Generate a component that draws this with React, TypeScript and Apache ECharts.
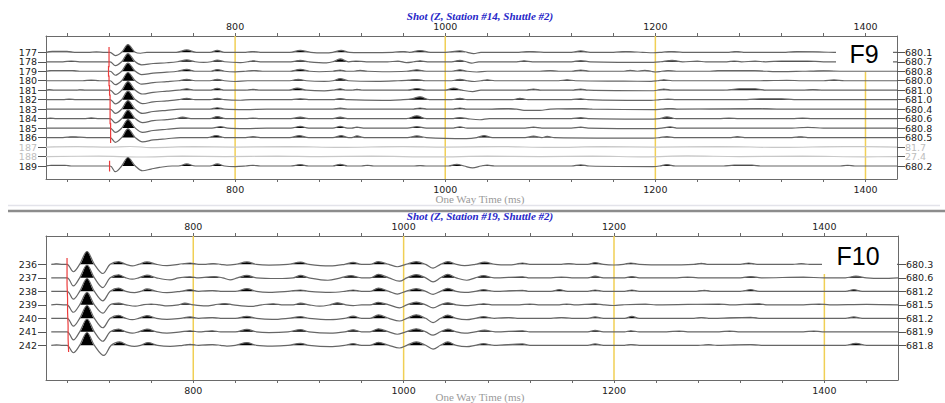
import React, { useEffect, useRef } from "react";
import * as echarts from "echarts";

type Pt = [number, number];

// ---------- Top panel (Station #14) ----------
const topLabels = ["177", "178", "179", "180", "181", "182", "183", "184", "185", "186", "187", "188", "189"];
const topElev = ["680.1", "680.7", "680.8", "680.0", "681.0", "681.0", "680.4", "680.6", "680.8", "680.5", "81.7", "27.4", "680.2"];
const topFaded = [false, false, false, false, false, false, false, false, false, false, true, true, false];
const topPicks: (number | null)[] = [680, 680, 679.5, 680, 680.5, 681, 681, 681, 681.5, 681.5, null, null, 680.5];
const topTicks = [640, 680, 720, 760, 800, 840, 880, 920, 960, 1000, 1040, 1080, 1120, 1160, 1200, 1240, 1280, 1320, 1360, 1400];
const topTickLabels = [800, 1000, 1200, 1400];

const t177: Pt[] = [[620,0],[626,0.1],[640,0.1],[647,0],[660,0],[668,0.04],[676,0],[681,0],[686,-0.35],[692,0],[698,0.82],[705,0],[710,-0.1],[716,0],[744,0],[754,0.25],[763,0],[776,0],[783,0.2],[790,0],[810,0],[817,0.08],[824,0],[852,0],[862,0.2],[872,0],[885,-0.06],[893,0],[901,0.2],[909,0],[930,-0.04],[950,0],[960,0.08],[966,0],[976,0.18],[986,0],[1000,0],[1014,0.15],[1021,0],[1027,-0.15],[1034,0],[1070,0],[1080,0.08],[1094,0],[1120,0],[1129,0.15],[1138,0],[1160,0],[1172,0.08],[1188,0],[1198,-0.05],[1206,0],[1215,0.08],[1226,0],[1270,0],[1277,0.08],[1284,0],[1324,0],[1335,0.07],[1350,0.06],[1370,0],[1430,0]];
const t178: Pt[] = [[620,0],[636,0],[644,0.08],[652,0],[681,0],[686,-0.4],[692,0],[698,0.86],[705,0],[711,-0.33],[722,-0.18],[735,-0.1],[745,0],[754,0.2],[762,0],[770,-0.06],[777,0],[783,0.18],[790,0],[805,-0.08],[812,0],[817,0.1],[824,0],[853,0],[862,0.15],[870,0],[887,-0.12],[893,0],[900,0.3],[908,0],[915,0.08],[925,0],[945,0],[955,0.06],[963,-0.08],[970,0],[976,0.1],[983,0],[1006,0],[1014,0.15],[1020,0],[1025,-0.15],[1032,0],[1068,0],[1075,0.1],[1083,0],[1120,0],[1129,0.12],[1138,0],[1198,-0.06],[1205,0],[1216,0.15],[1226,0],[1240,0.06],[1248,0],[1268,0],[1275,0.08],[1282,0],[1295,0.06],[1305,0],[1320,0.08],[1345,0.08],[1360,0],[1430,0]];
const t179: Pt[] = [[620,0],[625,0.08],[645,0.08],[652,0],[681,0],[686,-0.42],[692,0],[698,0.86],[705,0],[711,-0.35],[722,-0.2],[735,-0.1],[745,0],[754,0.2],[762,0],[777,0],[783,0.18],[790,0],[800,-0.06],[810,0],[818,0.08],[826,0],[852,0],[862,0.2],[871,0],[880,-0.05],[893,0],[900,0.12],[906,0],[913,0],[919,0.1],[926,0],[940,-0.05],[963,0],[973,0.15],[982,0],[1006,0],[1014,0.15],[1021,0],[1030,-0.08],[1040,0],[1090,0],[1100,0.06],[1108,0],[1120,0],[1129,0.12],[1138,0],[1170,0],[1176,0.1],[1183,0],[1190,0.1],[1196,0],[1200,-0.08],[1206,0],[1212,0.06],[1220,0],[1252,0],[1262,0.08],[1275,0.07],[1290,0.08],[1306,0],[1320,-0.04],[1340,0],[1360,0.05],[1380,0],[1430,0]];
const t180: Pt[] = [[620,0],[655,0],[663,0.07],[671,0],[681,0],[686,-0.42],[692,0],[698,0.87],[705,0],[711,-0.36],[722,-0.2],[735,-0.1],[746,0],[754,0.15],[762,0],[776,0],[783,0.15],[790,0],[800,-0.08],[812,0],[852,0],[860,0.15],[868,0],[885,-0.06],[893,0],[900,0.22],[908,0],[935,-0.06],[955,0],[965,0.06],[973,0.12],[981,0],[1006,0],[1014,0.15],[1021,0],[1028,-0.08],[1034,0],[1040,0.1],[1047,0],[1108,0],[1116,0.1],[1124,0],[1170,-0.04],[1196,-0.06],[1202,0],[1208,0.1],[1216,0],[1300,0],[1325,0.05],[1340,0],[1360,0],[1370,0.08],[1380,0],[1430,0]];
const t181: Pt[] = [[620,0],[623,0.06],[628,0],[648,0],[652,0.05],[658,0],[681,0],[686,-0.45],[692,0],[698,0.9],[705,0],[712,-0.4],[722,-0.22],[735,-0.1],[746,0],[754,0.15],[762,0],[776,0],[783,0.2],[790,0],[810,0],[817,0.1],[824,0],[851,0],[859,0.22],[868,0],[885,-0.08],[893,0],[900,0.15],[906,0],[911,0],[916,0.1],[922,0],[964,0],[973,0.18],[982,0],[1000,0],[1008,0.22],[1016,0],[1026,-0.15],[1034,0],[1076,0],[1084,0.12],[1092,0],[1120,0],[1129,0.12],[1136,0],[1196,-0.06],[1202,0],[1208,0.12],[1216,0],[1265,0],[1280,0.15],[1295,0.15],[1306,0],[1340,0],[1350,0.06],[1360,0],[1430,0]];
const t182: Pt[] = [[620,0],[636,0],[642,0.06],[649,0],[681,0],[686,-0.45],[692,0],[698,0.9],[705,0],[712,-0.42],[722,-0.24],[735,-0.12],[746,0],[754,0.15],[762,0],[776,0],[783,0.15],[790,0],[805,-0.06],[815,0],[854,0],[862,0.1],[870,0],[893,0],[900,0.12],[907,0],[940,-0.08],[960,0],[968,0.08],[976,0.3],[985,0],[1006,0],[1014,0.15],[1021,0],[1064,0],[1071,0.15],[1079,0],[1120,0],[1129,0.1],[1136,0],[1150,-0.05],[1196,-0.08],[1204,0],[1212,0.06],[1220,0],[1287,0],[1300,0.1],[1320,0.1],[1332,0],[1380,0],[1430,0]];
const t183: Pt[] = [[620,0],[681,0],[686,-0.45],[692,0],[698,0.9],[705,0],[712,-0.45],[722,-0.25],[735,-0.12],[748,0],[776,0],[783,0.15],[790,0],[810,-0.05],[830,0],[893,0],[900,0.1],[907,0],[968,0],[976,0.12],[984,0],[1006,0],[1014,0.12],[1021,0],[1040,0],[1060,0.06],[1068,0],[1075,-0.12],[1090,-0.12],[1100,0],[1130,0.05],[1140,0],[1198,-0.05],[1206,0],[1214,0.06],[1222,0],[1300,0.05],[1320,0],[1430,0]];
const t184: Pt[] = [[620,0],[624,0.06],[630,0],[656,0],[663,0.07],[671,0],[681,0],[686,-0.45],[692,0],[698,0.9],[705,0],[712,-0.42],[722,-0.22],[735,-0.1],[743,0],[750,0.15],[758,0],[776,0],[783,0.22],[791,0],[810,0],[817,0.06],[824,0],[853,0],[862,0.15],[870,0],[893,0],[900,0.15],[907,0],[963,0],[973,0.3],[982,0],[1006,0],[1014,0.12],[1021,0],[1033,-0.12],[1042,0],[1120,0],[1129,0.1],[1136,0],[1198,-0.05],[1204,0],[1211,0.18],[1220,0],[1260,0],[1270,0.06],[1280,0],[1330,0],[1340,0.06],[1350,0],[1430,0]];
const t185: Pt[] = [[620,0],[681,0],[686,-0.45],[692,0],[698,0.9],[705,0],[712,-0.45],[722,-0.25],[735,-0.12],[748,0],[778,0],[786,0.15],[793,0],[810,-0.05],[830,0],[853,0],[862,0.18],[870,0],[893,0],[900,0.18],[907,0],[911,0],[916,0.1],[922,0],[964,0],[973,0.15],[982,0],[1006,0],[1014,0.12],[1021,0],[1076,0],[1084,0.1],[1092,0],[1120,0],[1129,0.1],[1136,0],[1198,-0.06],[1206,0],[1214,0.12],[1222,0],[1330,0],[1345,0.08],[1360,0],[1430,0]];
const t186: Pt[] = [[620,0],[636,0],[645,0.08],[659,0],[681,0],[686,-0.5],[692,0],[698,0.92],[705,0],[712,-0.45],[722,-0.25],[735,-0.12],[748,0],[774,0],[782,0.22],[790,0],[810,0],[817,0.1],[824,0],[852,0],[861,0.2],[870,0],[893,0],[901,0.2],[908,0],[911,0],[916,0.18],[923,0],[964,0],[973,0.18],[982,0],[1020,-0.1],[1030,0],[1037,0.2],[1045,0],[1076,0],[1084,0.15],[1092,0],[1097,0.12],[1104,0],[1198,-0.06],[1204,0],[1211,0.1],[1218,0],[1272,0],[1278,0.1],[1285,0],[1330,0],[1338,0.08],[1345,0],[1430,0]];
const t187: Pt[] = [[620,0],[650,0.05],[680,0],[700,0.06],[720,-0.05],[760,0.04],[800,0],[850,0.05],[900,-0.04],[960,0.05],[1000,0],[1050,0.05],[1100,-0.04],[1150,0.04],[1200,0],[1260,0.05],[1320,-0.04],[1380,0.05],[1430,0]];
const t188: Pt[] = [[620,0],[670,0.04],[710,-0.05],[750,0.04],[790,0],[840,0.05],[880,0],[930,0.04],[990,-0.04],[1040,0.04],[1090,0],[1140,0.05],[1190,-0.04],[1230,0.06],[1280,0],[1340,0.04],[1400,-0.03],[1430,0]];
const t189: Pt[] = [[620,0],[625,0.08],[638,0.08],[644,0],[681,0],[686,-0.6],[692,0],[698,0.9],[705,0],[712,-0.5],[720,-0.32],[728,-0.15],[740,0],[746,0],[754,0.22],[762,0],[776,0],[783,0.22],[790,0],[800,-0.06],[810,0],[817,0.08],[824,0],[853,0],[862,0.15],[870,0],[893,0],[900,0.18],[907,0],[920,0],[926,0.08],[932,0],[970,0],[976,0.05],[982,0],[1003,0],[1011,0.18],[1018,0],[1026,-0.2],[1034,0],[1040,0.1],[1047,0],[1120,0],[1129,0.12],[1137,0],[1198,-0.06],[1204,0],[1211,0.15],[1219,0],[1265,0],[1275,0.1],[1292,0.1],[1300,0],[1376,0],[1383,0.08],[1390,0],[1430,0]];
const topTraces: Pt[][] = [t177, t178, t179, t180, t181, t182, t183, t184, t185, t186, t187, t188, t189];

// ---------- Bottom panel (Station #19) ----------
const bottomLabels = ["236", "237", "238", "239", "240", "241", "242"];
const bottomElev = ["680.3", "680.6", "681.2", "681.5", "681.2", "681.9", "681.8"];
const bottomFaded = [false, false, false, false, false, false, false];
const bottomPicks: (number | null)[] = [680, 680, 680.5, 680.5, 681, 681, 681.5];
const bottomTicks = [680, 720, 760, 800, 840, 880, 920, 960, 1000, 1040, 1080, 1120, 1160, 1200, 1240, 1280, 1320, 1360, 1400, 1440];
const bottomTickLabels = [800, 1000, 1200, 1400];

const b236: Pt[] = [[665,0],[670,0.04],[676,0],[680,0],[686,-0.55],[692,0],[699,0.95],[706,0],[714,-0.68],[721,0],[729,0.2],[736,0],[742,-0.12],[748,0],[756,0.18],[765,0],[775,-0.1],[786,0],[797,0.1],[805,0],[812,0],[819,0.06],[826,0],[832,-0.06],[840,0],[851,0.18],[860,0],[872,-0.06],[890,0],[902,0.17],[910,0],[930,-0.12],[944,0],[952,0.14],[960,0],[968,0],[976,0.2],[986,0],[994,-0.18],[1002,0],[1012,0.2],[1021,0],[1028,-0.28],[1035,0],[1042,0.2],[1050,0],[1058,-0.1],[1068,0],[1077,0.16],[1087,0],[1100,-0.04],[1106,0],[1113,0.1],[1120,0],[1150,0],[1157,0.06],[1164,0],[1175,0],[1182,0.12],[1190,0],[1200,-0.05],[1209,0],[1216,0.1],[1224,0],[1250,-0.04],[1276,0],[1283,0.08],[1290,0],[1320,0],[1328,0.1],[1336,0],[1370,0],[1378,0.05],[1386,0],[1470,0]];
const b237: Pt[] = [[665,0],[680,0],[686,-0.6],[692,0],[699,0.95],[706,0],[714,-0.72],[721,0],[729,0.22],[736,0],[742,-0.1],[748,0],[756,0.2],[765,0],[778,-0.15],[786,0],[797,0.08],[805,0],[820,0.1],[828,0],[835,-0.15],[842,0],[851,0.18],[860,0],[880,-0.05],[895,0],[902,0.18],[910,0],[928,-0.18],[940,0],[950,0.16],[960,0],[968,0],[976,0.25],[986,0],[996,-0.25],[1003,0],[1012,0.24],[1021,0],[1028,-0.3],[1035,0],[1042,0.25],[1050,0],[1060,-0.18],[1068,0],[1076,0.16],[1086,0],[1113,0.08],[1120,0],[1140,0],[1150,0.06],[1160,0],[1175,0],[1182,0.12],[1190,0],[1210,0],[1217,0.1],[1224,0],[1260,0],[1270,0.06],[1280,0],[1320,0],[1330,0.1],[1340,0],[1380,0.05],[1400,0],[1420,0],[1430,0.12],[1440,0],[1455,-0.04],[1470,0]];
const b238: Pt[] = [[665,0],[680,0],[686,-0.58],[692,0],[699,0.95],[706,0],[714,-0.7],[721,0],[729,0.24],[736,0],[744,-0.1],[750,0],[756,0.18],[765,0],[775,-0.1],[788,0],[797,0.12],[805,0],[818,0.06],[826,0],[840,0],[851,0.2],[860,0],[872,-0.08],[890,0],[902,0.1],[910,0],[930,-0.08],[944,0],[952,0.1],[960,0],[968,0],[976,0.24],[986,0],[994,-0.2],[1002,0],[1012,0.2],[1021,0],[1028,-0.22],[1035,0],[1042,0.22],[1050,0],[1058,-0.08],[1068,0],[1076,0.12],[1086,0],[1113,0.08],[1120,0],[1140,0],[1148,0.12],[1156,0],[1175,0],[1182,0.1],[1190,0],[1210,0],[1217,0.1],[1224,0],[1276,0],[1286,0.08],[1294,0],[1320,0],[1330,0.12],[1338,0],[1420,0],[1428,0.12],[1436,0],[1470,0]];
const b239: Pt[] = [[665,0],[670,0.03],[678,0],[680,0],[686,-0.55],[692,0],[699,0.92],[706,0],[714,-0.62],[721,0],[729,0.12],[736,0],[745,-0.1],[752,0],[760,0.06],[768,0],[775,-0.08],[786,0],[792,0.12],[800,0],[812,-0.08],[820,0],[830,0.1],[838,0],[855,-0.12],[865,0],[876,0.08],[886,0],[895,0],[902,0.12],[910,0],[920,-0.1],[930,0],[937,0.15],[945,0],[952,-0.06],[960,0],[968,0],[976,0.18],[986,0],[996,-0.22],[1003,0],[1012,0.2],[1021,0],[1028,-0.22],[1035,0],[1042,0.15],[1050,0],[1058,-0.06],[1068,0],[1076,0.08],[1086,0],[1110,0],[1120,0.06],[1128,0],[1148,0],[1155,0.06],[1162,0],[1182,0.08],[1190,0],[1200,-0.05],[1208,0],[1230,0.05],[1240,0],[1300,0.06],[1310,0],[1338,0.08],[1346,0],[1380,0],[1395,0.06],[1405,0],[1440,0.04],[1470,0]];
const b240: Pt[] = [[665,0],[680,0],[686,-0.58],[692,0],[699,0.95],[706,0],[714,-0.7],[721,0],[729,0.22],[736,0],[742,-0.1],[748,0],[756,0.2],[765,0],[775,-0.08],[788,0],[797,0.1],[805,0],[818,0.06],[826,0],[840,0],[851,0.15],[860,0],[875,-0.08],[890,0],[902,0.12],[910,0],[930,-0.1],[944,0],[952,0.16],[960,0],[968,0],[976,0.25],[986,0],[996,-0.2],[1003,0],[1012,0.26],[1021,0],[1028,-0.32],[1035,0],[1042,0.24],[1050,0],[1060,-0.1],[1068,0],[1076,0.12],[1086,0],[1100,0.06],[1108,0],[1140,0],[1150,0.06],[1160,0],[1175,0],[1182,0.1],[1190,0],[1210,0],[1217,0.14],[1224,0],[1276,0],[1283,0.06],[1290,0],[1330,0.08],[1340,0],[1420,0],[1428,0.1],[1436,0],[1470,0]];
const b241: Pt[] = [[665,0],[680,0],[686,-0.6],[692,0],[699,0.95],[706,0],[714,-0.7],[721,0],[729,0.2],[736,0],[742,-0.1],[748,0],[756,0.2],[765,0],[775,-0.1],[788,0],[797,0.08],[805,0],[818,0.08],[826,0],[840,0],[851,0.18],[860,0],[872,-0.06],[890,0],[902,0.16],[910,0],[930,-0.1],[944,0],[952,0.15],[960,0],[968,0],[976,0.22],[986,0],[994,-0.18],[1002,0],[1012,0.22],[1021,0],[1028,-0.25],[1035,0],[1042,0.2],[1050,0],[1058,-0.1],[1068,0],[1077,0.12],[1087,0],[1113,0.08],[1120,0],[1175,0],[1182,0.1],[1190,0],[1210,0],[1216,0.08],[1224,0],[1250,0],[1262,0.06],[1270,0],[1300,0],[1310,0.06],[1318,0],[1380,0],[1390,0.06],[1398,0],[1470,0]];
const b242: Pt[] = [[665,0],[670,0.03],[676,0],[680,0],[686,-0.55],[692,0],[699,0.95],[706,0],[715,-0.75],[722,0],[730,0.25],[738,0],[744,-0.08],[750,0],[757,0.2],[766,0],[778,-0.08],[790,0],[797,0.08],[805,0],[818,0.06],[826,0],[832,-0.06],[840,0],[851,0.2],[860,0],[875,-0.06],[890,0],[902,0.15],[910,0],[930,-0.1],[944,0],[952,0.12],[960,0],[968,0],[976,0.22],[986,0],[996,-0.2],[1003,0],[1012,0.25],[1021,0],[1028,-0.28],[1035,0],[1042,0.25],[1050,0],[1060,-0.1],[1068,0],[1076,0.12],[1086,0],[1113,0.1],[1120,0],[1175,0],[1182,0.1],[1190,0],[1210,0],[1216,0.06],[1224,0],[1280,0],[1290,0.05],[1298,0],[1330,0.06],[1340,0],[1420,0],[1430,0.15],[1440,0],[1470,0]];
const bottomTraces: Pt[][] = [b236, b237, b238, b239, b240, b241, b242];

const markerTimes = [800, 1000, 1200, 1400];

const LABEL_FONT = "'DejaVu Sans', Arial, sans-serif";

// ---------- builders ----------
function traceSeries(traces: Pt[][], faded: boolean[], xIdx: number, yIdx: number) {
  const n = traces.length;
  const out: any[] = [];
  traces.forEach((tr, i) => {
    const base = n - 1 - i;
    const fade = faded[i];
    out.push({
      type: "line", xAxisIndex: xIdx, yAxisIndex: yIdx, silent: true, symbol: "none",
      smooth: 0.35, smoothMonotone: "x", z: 3,
      lineStyle: { width: 0, opacity: 0 },
      areaStyle: { color: fade ? "#d4d4d4" : "#000000", opacity: 1, origin: base },
      data: tr.map(([t, a]) => [t, base + Math.max(a, 0)]),
    });
    out.push({
      type: "line", xAxisIndex: xIdx, yAxisIndex: yIdx, silent: true, symbol: "none",
      smooth: 0.35, z: 4,
      lineStyle: { width: 1.2, color: fade ? "#c8c8c8" : "#666666" },
      data: tr.map(([t, a]) => [t, base + a]),
    });
  });
  return out;
}

function pickSeries(picks: (number | null)[], xIdx: number, yIdx: number, up: number, down: number) {
  const n = picks.length;
  const groups: number[][][] = [];
  let cur: number[][] = [];
  picks.forEach((p, i) => {
    const base = n - 1 - i;
    if (p == null) {
      if (cur.length) groups.push(cur);
      cur = [];
      return;
    }
    cur.push([p, base + up], [p, base - down]);
  });
  if (cur.length) groups.push(cur);
  return groups.map((g) => ({
    type: "line", xAxisIndex: xIdx, yAxisIndex: yIdx, silent: true, symbol: "none",
    data: g, z: 5, lineStyle: { color: "#ec3b3b", width: 1.2 },
  }));
}

function yellowSeries(xIdx: number, yIdx: number, ymin: number, tops: number[]) {
  return markerTimes.map((t, i) => ({
    type: "line", xAxisIndex: xIdx, yAxisIndex: yIdx, silent: true, symbol: "none",
    data: [[t, ymin], [t, tops[i]]], z: 2,
    lineStyle: { color: "#f0cf55", width: 1.5 },
  }));
}

function xAxis(gridIndex: number, position: string, min: number, max: number, ticks: number[], labels: number[]) {
  return {
    type: "value", gridIndex, position, min, max,
    axisLine: { show: true, onZero: false, lineStyle: { color: "#6a6a6a", width: 1 } },
    axisTick: { show: true, customValues: ticks, length: 3, inside: false, lineStyle: { color: "#6a6a6a" } },
    axisLabel: {
      show: true, customValues: labels, fontSize: 9.5, lineHeight: 10, color: "#222", fontFamily: LABEL_FONT, margin: 5,
      formatter: (v: number) => String(v),
    },
    splitLine: { show: false },
  };
}

// Two y axes at the same side: one carries the even rows, the other the odd rows,
// so that tightly spaced labels are never dropped by the min/max label overlap rule.
function yAxesSide(gridIndex: number, position: string, min: number, max: number, labels: string[], faded: boolean[], margin: number) {
  const n = labels.length;
  const all = labels.map((_, i) => i);
  return [0, 1].map((parity) => {
    const vals = all.filter((v) => v % 2 === parity);
    return {
      type: "value", gridIndex, position, min, max,
      axisLine: { show: parity === 0, onZero: false, lineStyle: { color: "#6a6a6a", width: 1 } },
      axisTick: { show: true, customValues: vals, length: 8, lineStyle: { color: "#555" } },
      axisLabel: {
        show: true, customValues: vals, margin, hideOverlap: false,
        formatter: (v: number) => {
          const i = n - 1 - Math.round(v);
          const s = labels[i] ?? "";
          return faded[i] ? `{g|${s}}` : `{n|${s}}`;
        },
        rich: {
          n: { color: "#222", fontSize: 9.5, lineHeight: 9, fontFamily: LABEL_FONT },
          g: { color: "#bdbdbd", fontSize: 9.5, lineHeight: 9, fontFamily: LABEL_FONT },
        },
      },
      splitLine: { show: false },
    };
  });
}

export default function App() {
  const ref = useRef<HTMLDivElement>(null);
  useEffect(() => {
    if (!ref.current) return;
    const chart = echarts.init(ref.current, null, { renderer: "svg" });
    const topMin = -1.37, topMax = 13.72;
    const botMin = -2.57, botMax = 8.1;
    const option: any = {
      animation: false,
      backgroundColor: "#ffffff",
      grid: [
        { left: 46, top: 36, width: 851, height: 143, containLabel: false },
        { left: 46, top: 236, width: 852, height: 144, containLabel: false },
      ],
      xAxis: [
        xAxis(0, "bottom", 620, 1430, topTicks, topTickLabels),
        xAxis(0, "top", 620, 1430, topTicks, topTickLabels),
        xAxis(1, "bottom", 660, 1470, bottomTicks, bottomTickLabels),
        xAxis(1, "top", 660, 1470, bottomTicks, bottomTickLabels),
      ],
      yAxis: [
        ...yAxesSide(0, "left", topMin, topMax, topLabels, topFaded, 9),
        ...yAxesSide(0, "right", topMin, topMax, topElev, topFaded, 8),
        ...yAxesSide(1, "left", botMin, botMax, bottomLabels, bottomFaded, 9),
        ...yAxesSide(1, "right", botMin, botMax, bottomElev, bottomFaded, 8),
      ],
      series: [
        ...yellowSeries(0, 0, topMin, [topMax, topMax, topMax, 9.95]),
        ...yellowSeries(2, 4, botMin, [botMax, botMax, botMax, 5.28]),
        ...traceSeries(topTraces, topFaded, 0, 0),
        ...traceSeries(bottomTraces, bottomFaded, 2, 4),
        ...pickSeries(topPicks, 0, 0, 0.56, 0.58),
        ...pickSeries(bottomPicks, 2, 4, 0.47, 0.5),
      ],
      graphic: [
        { type: "text", z: 100, x: 480, y: 16, style: { text: "Shot (Z, Station #14, Shuttle #2)", textAlign: "center", textVerticalAlign: "middle", font: "italic bold 11px 'Liberation Serif'", fill: "#2626c8" } },
        { type: "text", z: 100, x: 480, y: 199, style: { text: "One Way Time (ms)", textAlign: "center", textVerticalAlign: "middle", font: "11px 'Liberation Serif'", fill: "#9a9a9a" } },
        { type: "line", z: 100, shape: { x1: 8, y1: 205.5, x2: 940, y2: 205.5 }, style: { stroke: "#e3e3ea", lineWidth: 1.5 } },
        { type: "line", z: 100, shape: { x1: 8, y1: 211, x2: 945, y2: 211 }, style: { stroke: "#8c8c8c", lineWidth: 2.5 } },
        { type: "text", z: 100, x: 480, y: 216, style: { text: "Shot (Z, Station #19, Shuttle #2)", textAlign: "center", textVerticalAlign: "middle", font: "italic bold 11px 'Liberation Serif'", fill: "#2626c8" } },
        { type: "text", z: 100, x: 480, y: 397, style: { text: "One Way Time (ms)", textAlign: "center", textVerticalAlign: "middle", font: "11px 'Liberation Serif'", fill: "#9a9a9a" } },
        { type: "rect", z: 100, shape: { x: 836, y: 37, width: 57, height: 30 }, style: { fill: "#ffffff" } },
        { type: "text", z: 101, x: 864, y: 54, style: { text: "F9", textAlign: "center", textVerticalAlign: "middle", font: "25px Arial", fill: "#000" } },
        { type: "rect", z: 100, shape: { x: 822, y: 237, width: 75, height: 34 }, style: { fill: "#ffffff" } },
        { type: "text", z: 101, x: 858, y: 256, style: { text: "F10", textAlign: "center", textVerticalAlign: "middle", font: "25px Arial", fill: "#000" } },
      ],
    };
    chart.setOption(option);
    return () => chart.dispose();
  }, []);
  return <div ref={ref} style={{ position: "fixed", left: 0, top: 0, width: 945, height: 403 }} />;
}
